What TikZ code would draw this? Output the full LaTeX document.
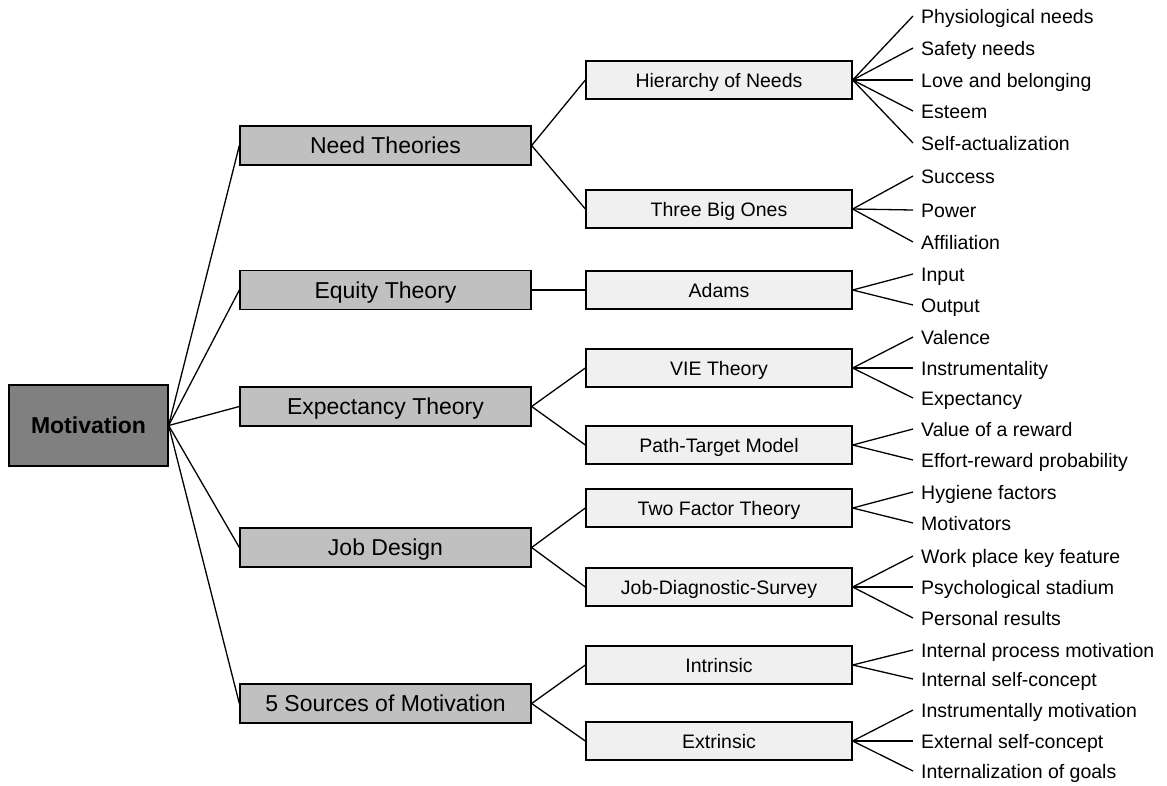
\documentclass[tikz,border=0pt]{standalone}
\usepackage{fontspec}
\setmainfont{Liberation Sans}
\definecolor{rootfill}{RGB}{128,128,128}
\definecolor{themefill}{RGB}{192,192,192}
\definecolor{modelfill}{RGB}{240,240,240}
\begin{document}
\begin{tikzpicture}[x=1pt,y=-1pt,
  every node/.style={inner sep=0pt},
  root/.style={draw=black, line width=1.3pt, fill=rootfill, minimum width=159pt, minimum height=81pt,
    font=\fontsize{23}{26}\selectfont\bfseries, text height=16.5pt, text depth=0pt},
  theme/.style={draw=black, line width=1.3pt, fill=themefill, minimum width=291pt, minimum height=39pt,
    font=\fontsize{23}{26}\selectfont, text height=16.5pt, text depth=0pt},
  model/.style={draw=black, line width=1.3pt, fill=modelfill, minimum width=266pt, minimum height=38pt,
    font=\fontsize{19.5}{22}\selectfont, text height=14pt, text depth=0pt},
  item/.style={anchor=west, inner xsep=8pt, font=\fontsize{19.5}{22}\selectfont, text height=14pt, text depth=0pt},
  link/.style={draw=black, line width=1.3pt}
]
\useasboundingbox (0,0) rectangle (1167,785);

% root
\node[root] (mot) at (88.5,425.5) {Motivation};

% first level: theory groups
\node[theme] (need) at (385.5,145.5) {Need Theories};
\node[theme] (equ)  at (385.5,290)   {Equity Theory};
\node[theme] (exp)  at (385.5,406.5) {Expectancy Theory};
\node[theme] (job)  at (385.5,547.5) {Job Design};
\node[theme] (src)  at (385.5,703.5) {5 Sources of Motivation};

% second level: models
\node[model] (hier) at (719,80)  {Hierarchy of Needs};
\node[model] (big)  at (719,209) {Three Big Ones};
\node[model] (adam) at (719,290) {Adams};
\node[model] (vie)  at (719,368) {VIE Theory};
\node[model] (path) at (719,445) {Path-Target Model};
\node[model] (two)  at (719,508) {Two Factor Theory};
\node[model] (jds)  at (719,587) {Job-Diagnostic-Survey};
\node[model] (intr) at (719,665) {Intrinsic};
\node[model] (extr) at (719,741) {Extrinsic};

% third level: items
\node[item] (h1) at (913,16)  {Physiological needs};
\node[item] (h2) at (913,48)  {Safety needs};
\node[item] (h3) at (913,80)  {Love and belonging};
\node[item] (h4) at (913,111) {Esteem};
\node[item] (h5) at (913,143) {Self-actualization};
\node[item] (b1) at (913,176) {Success};
\node[item] (b2) at (913,210) {Power};
\node[item] (b3) at (913,242) {Affiliation};
\node[item] (a1) at (913,274) {Input};
\node[item] (a2) at (913,305) {Output};
\node[item] (v1) at (913,337) {Valence};
\node[item] (v2) at (913,368) {Instrumentality};
\node[item] (v3) at (913,398) {Expectancy};
\node[item] (p1) at (913,429) {Value of a reward};
\node[item] (p2) at (913,460) {Effort-reward probability};
\node[item] (t1) at (913,492) {Hygiene factors};
\node[item] (t2) at (913,523) {Motivators};
\node[item] (j1) at (913,556) {Work place key feature};
\node[item] (j2) at (913,587) {Psychological stadium};
\node[item] (j3) at (913,618) {Personal results};
\node[item] (i1) at (913,650) {Internal process motivation};
\node[item] (i2) at (913,679) {Internal self-concept};
\node[item] (e1) at (913,710) {Instrumentally motivation};
\node[item] (e2) at (913,741) {External self-concept};
\node[item] (e3) at (913,771) {Internalization of goals};

% connectors
\foreach \t in {need,equ,exp,job,src}
  \draw[link] (mot.east) -- (\t.west);
\foreach \a/\b in {need/hier,need/big,equ/adam,exp/vie,exp/path,job/two,job/jds,src/intr,src/extr}
  \draw[link] (\a.east) -- (\b.west);
\foreach \a/\b in {hier/h1,hier/h2,hier/h3,hier/h4,hier/h5,big/b1,big/b2,big/b3,adam/a1,adam/a2,
                   vie/v1,vie/v2,vie/v3,path/p1,path/p2,two/t1,two/t2,jds/j1,jds/j2,jds/j3,
                   intr/i1,intr/i2,extr/e1,extr/e2,extr/e3}
  \draw[link] (\a.east) -- (\b.west);
\end{tikzpicture}
\end{document}
